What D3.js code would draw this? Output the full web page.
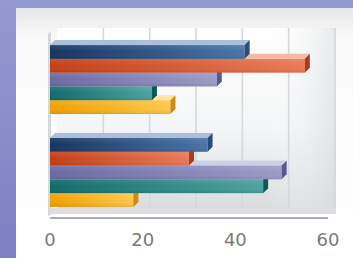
<!DOCTYPE html>
<html><head><meta charset="utf-8">
<script src="https://cdn.jsdelivr.net/npm/d3@7"></script>
<style>html,body{margin:0;padding:0;background:#9095cf;}svg{display:block;}</style>
</head><body>
<script>
const categories = ["A", "B"];
const seriesNames = ["S1", "S2", "S3", "S4", "S5"];
const s1 = [42, 34];
const s2 = [55, 30];
const s3 = [36, 50];
const s4 = [22, 46];
const s5 = [26, 18];
const tickValues = [0, 20, 40, 60];
const gridValues = [10, 20, 30, 40, 50, 60];
const colors = [
  ["#16325f", "#4a74a8", "#a9bfdc", "#2a4a78"],
  ["#c43e14", "#ea7a58", "#f6b9a3", "#a83c1c"],
  ["#6a6aa4", "#9c9cc8", "#cdd0e6", "#5a5a90"],
  ["#0f6a6a", "#4ba3a0", "#a7d4d0", "#105858"],
  ["#f2a000", "#ffc84a", "#ffe3a0", "#d08a10"]
];
const seriesVals = [s1, s2, s3, s4, s5];

const W = 353, H = 258;
const svg = d3.select("body").append("svg").attr("width", W).attr("height", H);
const defs = svg.append("defs");

function lin(id, x2, y2, stops) {
  const g = defs.append("linearGradient").attr("id", id)
    .attr("x1", 0).attr("y1", 0).attr("x2", x2).attr("y2", y2);
  stops.forEach(s => g.append("stop").attr("offset", s[0]).attr("stop-color", s[1]));
}
lin("bg", 0, 1, [[0, "#9499d2"], [1, "#7c80c3"]]);
lin("panel", 0, 1, [[0, "#e6e7e8"], [0.12, "#fafafa"], [1, "#ffffff"]]);
lin("wall", 0, 1, [[0, "#ffffff"], [0.55, "#f4f5f6"], [1, "#d9dbdd"]]);
lin("wallR", 1, 0, [[0, "rgba(255,255,255,0)"], [0.75, "rgba(255,255,255,0)"], [1, "rgba(215,218,222,0.6)"]]);
colors.forEach((c, i) => {
  lin("bar" + i, 1, 0, [[0, c[0]], [1, c[1]]]);
});
lin("barv", 0, 1, [[0, "rgba(255,255,255,0.1)"], [0.5, "rgba(255,255,255,0)"], [1, "rgba(0,0,0,0.1)"]]);

svg.append("rect").attr("width", W).attr("height", H).attr("fill", "url(#bg)");
svg.append("rect").attr("x", 16).attr("y", 8).attr("width", W - 16).attr("height", H - 8).attr("fill", "url(#panel)");

const x = d3.scaleLinear().domain([0, 60]).range([50, 328]);
const y = d3.scaleBand().domain(categories).range([33, 219]).paddingInner(0.258).paddingOuter(0.13);
const ys = d3.scaleBand().domain(seriesNames).range([0, y.bandwidth()]);
const d = 5;
const wallTop = 28, wallBot = 212;

// back wall
svg.append("rect").attr("x", x(0) + 7).attr("y", wallTop).attr("width", x(60) + 8 - x(0) - 7).attr("height", wallBot - wallTop).attr("fill", "url(#wall)");
svg.append("rect").attr("x", x(0) + 7).attr("y", wallTop).attr("width", x(60) + 8 - x(0) - 7).attr("height", wallBot - wallTop).attr("fill", "url(#wallR)");
// grid lines
svg.append("g").selectAll("line").data(gridValues).join("line")
  .attr("x1", v => x(v) + 7).attr("x2", v => x(v) + 7)
  .attr("y1", wallTop).attr("y2", wallBot)
  .attr("stroke", "#d6d8db").attr("stroke-width", 1.6);
// left side wall
svg.append("path").attr("d", `M${x(0) - 2},${wallTop + 6} L${x(0) + 1},${wallTop + 3} L${x(0) + 1},${wallBot + 3} L${x(0) - 2},${wallBot + 4} Z`).attr("fill", "#d4d7dc");
// floor
svg.append("rect").attr("x", x(0)).attr("y", wallBot - 4).attr("width", x(60) + 8 - x(0)).attr("height", 6).attr("fill", "#dcdee1");

// bars
const gBars = svg.append("g");
categories.forEach((cat, ci) => {
  for (let si = seriesNames.length - 1; si >= 0; si--) {
    const v = seriesVals[si][ci];
    const by = y(cat) + ys(seriesNames[si]);
    const h = ys.bandwidth();
    const x0 = x(0), x1 = x(v);
    const c = colors[si];
    gBars.append("path")
      .attr("d", `M${x0},${by} L${x0 + d},${by - d} L${x1 + d},${by - d} L${x1},${by} Z`)
      .attr("fill", c[2]);
    gBars.append("rect").attr("x", x0).attr("y", by).attr("width", x1 - x0).attr("height", h)
      .attr("fill", `url(#bar${si})`);
    gBars.append("rect").attr("x", x0).attr("y", by).attr("width", x1 - x0).attr("height", h)
      .attr("fill", "url(#barv)");
    gBars.append("path")
      .attr("d", `M${x1},${by} L${x1 + d},${by - d} L${x1 + d},${by + h - d} L${x1},${by + h} Z`)
      .attr("fill", c[3]);
  }
});

// axis line
svg.append("line").attr("x1", x(0)).attr("x2", x(60)).attr("y1", 218).attr("y2", 218)
  .attr("stroke", "#a9abb0").attr("stroke-width", 2);

// tick labels
svg.append("g").selectAll("text").data(tickValues).join("text")
  .attr("x", v => x(v)).attr("y", 246)
  .attr("text-anchor", "middle")
  .attr("font-family", "DejaVu Sans, sans-serif").attr("font-size", 18)
  .attr("fill", "#7a7a7a")
  .text(v => v);
</script>
</body></html>
